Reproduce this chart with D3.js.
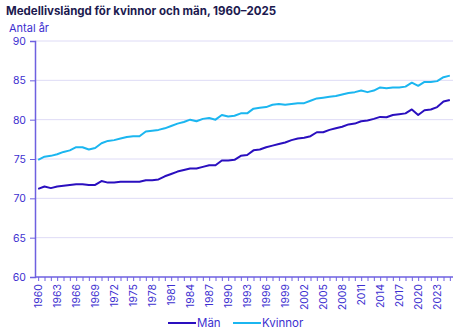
<!DOCTYPE html>
<html>
<head>
  <meta charset="utf-8">
  <title>Medellivslängd</title>
  <style>
    body { margin: 0; background: #fff; }
    text { font-family: Inter, "Noto Sans", sans-serif; }
  </style>
</head>
<body>
  <div id="chart"></div>
  <script src="https://d3js.org/d3.v7.min.js"></script>
  <script>

    let years = d3.range(1960, 2026);
    let men = [71.2, 71.5, 71.3, 71.5, 71.6, 71.7, 71.8, 71.8, 71.7, 71.7,
               72.2, 72.0, 72.0, 72.1, 72.1, 72.1, 72.1, 72.3, 72.3, 72.4,
               72.8, 73.1, 73.4, 73.6, 73.8, 73.8, 74.0, 74.2, 74.2, 74.8,
               74.8, 74.9, 75.4, 75.5, 76.1, 76.2, 76.5, 76.7, 76.9, 77.1,
               77.4, 77.6, 77.7, 77.9, 78.4, 78.4, 78.7, 78.9, 79.1, 79.4,
               79.5, 79.8, 79.9, 80.1, 80.35, 80.3, 80.6, 80.7, 80.8, 81.3,
               80.6, 81.2, 81.3, 81.6, 82.3, 82.5];
    let women = [74.9, 75.3, 75.4, 75.6, 75.9, 76.1, 76.5, 76.5, 76.2, 76.4,
                 77.0, 77.3, 77.4, 77.6, 77.8, 77.9, 77.9, 78.5, 78.6, 78.7,
                 78.9, 79.2, 79.5, 79.7, 80.0, 79.8, 80.1, 80.2, 80.0, 80.6,
                 80.4, 80.5, 80.8, 80.8, 81.4, 81.5, 81.6, 81.9, 82.0, 81.9,
                 82.0, 82.1, 82.1, 82.4, 82.7, 82.8, 82.9, 83.0, 83.2, 83.4,
                 83.5, 83.7, 83.5, 83.7, 84.1, 84.0, 84.1, 84.1, 84.2, 84.7,
                 84.3, 84.8, 84.8, 84.9, 85.4, 85.6];
    let yTicks = [60, 65, 70, 75, 80, 85, 90];
    let seriesNames = ['Män', 'Kvinnor'];
    let seriesColors = ['#2a0fbf', '#1bb6f0'];

    let svgWidth = 460, svgHeight = 330;
    let margin = {top: 41, right: 7, bottom: 53, left: 35};
    let width = svgWidth - margin.left - margin.right;
    let height = svgHeight - margin.top - margin.bottom;

    let svg = d3.select('#chart').append('svg')
      .attr('width', svgWidth)
      .attr('height', svgHeight);

    svg.append('text')
      .attr('x', 6).attr('y', 15)
      .attr('font-size', 11.5).attr('font-weight', 700)
      .attr('fill', '#1c1a4f')
      .text('Medellivslängd för kvinnor och män, 1960–2025');

    svg.append('text')
      .attr('x', 9).attr('y', 31.5)
      .attr('font-size', 11).attr('fill', '#3d2fd0')
      .text('Antal år');

    let g = svg.append('g')
      .attr('transform', 'translate(' + margin.left + ',' + margin.top + ')');

    let x = d3.scalePoint().domain(years).range([0, width]).padding(0.5);
    let y = d3.scaleLinear().domain([60, 90]).range([height, 0]);

    // grid
    g.selectAll('.grid').data(yTicks.slice(1)).enter()
      .append('line')
      .attr('x1', 0).attr('x2', width)
      .attr('y1', d => y(d)).attr('y2', d => y(d))
      .attr('stroke', '#dedbf6').attr('stroke-width', 1);

    // y axis
    let yAxis = g.append('g')
      .call(d3.axisLeft(y).tickValues(yTicks).tickSize(5).tickPadding(4));
    yAxis.select('.domain').attr('stroke', '#6e60e0').attr('stroke-width', 1.5);
    yAxis.selectAll('.tick line').attr('stroke', '#6e60e0');
    yAxis.selectAll('text').attr('fill', '#3d2fd0').attr('font-size', 10.5)
      .attr('font-family', 'Inter, "Noto Sans", sans-serif');

    // x axis
    let xAxis = g.append('g')
      .attr('transform', 'translate(0,' + height + ')')
      .call(d3.axisBottom(x).tickSize(4).tickSizeOuter(0)
        .tickFormat(d => (d - 1960) % 3 === 0 ? d : ''));
    xAxis.select('.domain').attr('stroke', '#6e60e0').attr('stroke-width', 1.5)
      .attr('d', 'M0,0H' + width);
    xAxis.selectAll('.tick line').attr('stroke', '#6e60e0');
    xAxis.selectAll('text')
      .attr('fill', '#3d2fd0').attr('font-size', 10.5)
      .attr('font-family', 'Inter, "Noto Sans", sans-serif')
      .attr('transform', 'rotate(-90)')
      .attr('text-anchor', 'end')
      .attr('dy', '0.35em')
      .attr('x', -7).attr('y', 0);

    let line = d3.line()
      .x((d, i) => x(years[i]))
      .y(d => y(d));

    [men, women].forEach(function(s, i) {
      g.append('path')
        .datum(s)
        .attr('fill', 'none')
        .attr('stroke', seriesColors[i])
        .attr('stroke-width', 2)
        .attr('stroke-linejoin', 'round')
        .attr('d', line);
    });

    // legend
    let legendX = [168, 233];
    let legend = svg.append('g').attr('transform', 'translate(0,323)');
    seriesNames.forEach(function(name, i) {
      legend.append('line')
        .attr('x1', legendX[i]).attr('x2', legendX[i] + 28)
        .attr('y1', 0).attr('y2', 0)
        .attr('stroke', seriesColors[i]).attr('stroke-width', 2);
      legend.append('text')
        .attr('x', legendX[i] + 29).attr('y', 0)
        .attr('dy', '0.35em')
        .attr('font-size', 11.5).attr('fill', '#3d2fd0')
        .text(name);
    });

  </script>
</body>
</html>
